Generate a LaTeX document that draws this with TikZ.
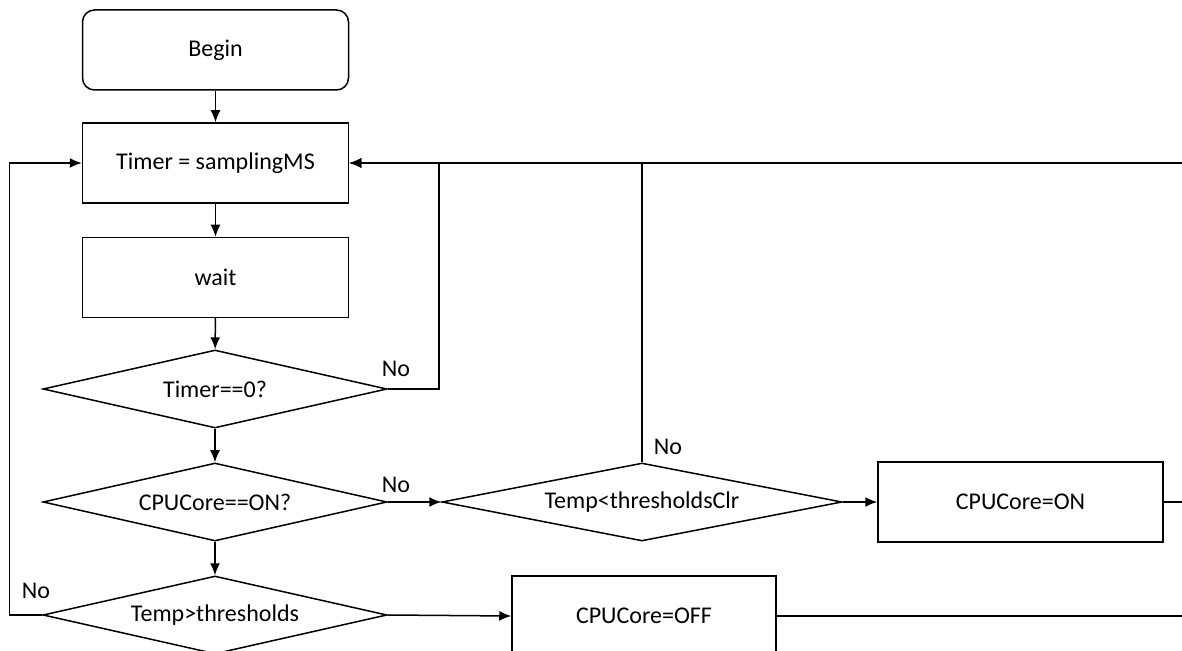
\documentclass[tikz,border=0pt]{standalone}
\usepackage{fontspec}
\setmainfont{Carlito}
\usetikzlibrary{shapes.geometric,arrows.meta}
\tikzset{
  box/.style={draw, line width=0.75pt, minimum width=133pt, minimum height=40pt, inner sep=0pt},
  startbox/.style={box, rounded corners=6pt},
  decision/.style={draw, diamond, line width=0.75pt, inner sep=0pt, aspect=4.4, minimum width=172pt, minimum height=39pt},
  nolabel/.style={inner sep=0pt}
}
\begin{document}
\begin{tikzpicture}[>={Latex[length=6pt,width=5pt]}, x=0.5pt, y=-0.5pt, line width=0.75pt,
  font=\fontsize{12}{14}\selectfont]
\clip (0,0) rectangle (1182,651);

% main column
\node[startbox] (begin) at (215.5,50) {Begin};
\node[box] (timer) at (215.5,163) {Timer = samplingMS};
\node[box] (wait) at (215.5,277.5) {wait};
\node[decision] (chkzero) at (215,389) {Timer==0?};
\node[decision] (chkon) at (215,502) {CPUCore==ON?};
\node[decision] (chkhi) at (215,615) {Temp>thresholds};

% right side
\node[decision, aspect=5, minimum width=200pt] (chkclr) at (642,502) {Temp<thresholdsClr};
\node[box, minimum width=142.5pt] (coreon) at (1020.5,502) {CPUCore=ON};
\node[box, minimum width=132pt] (coreoff) at (644,616) {CPUCore=OFF};
\coordinate (edge) at (1182,163);

\node[nolabel] (no1) at (396,369) {No};
\node[nolabel] (no2) at (396,485) {No};
\node[nolabel] (no3) at (36,591) {No};
\node[nolabel] (no4) at (668,447) {No};

\draw[->] (begin) -- (timer);
\draw[->] (timer) -- (wait);
\draw[->] (wait) -- (chkzero);
\draw[->] (chkzero) -- (chkon);
\draw[->] (chkon) -- (chkhi);

\draw[->] (chkzero.east) -- ++(51,0) |- (timer.east);
\draw[->] (chkon.east) -- (chkclr.west);
\draw[->] (chkclr.east) -- (coreon.west);
\draw[->] (chkhi.east) -- (coreoff.west);
\draw[->] (chkhi.west) -- ++(-33,0) |- (timer.west);

\draw (chkclr.north) -- (chkclr.north |- edge);
\draw[->] (edge) -- (timer.east);
\draw (coreon.east) -- (coreon.east -| edge);
\draw (coreoff.east) -- (coreoff.east -| edge);

\end{tikzpicture}
\end{document}
